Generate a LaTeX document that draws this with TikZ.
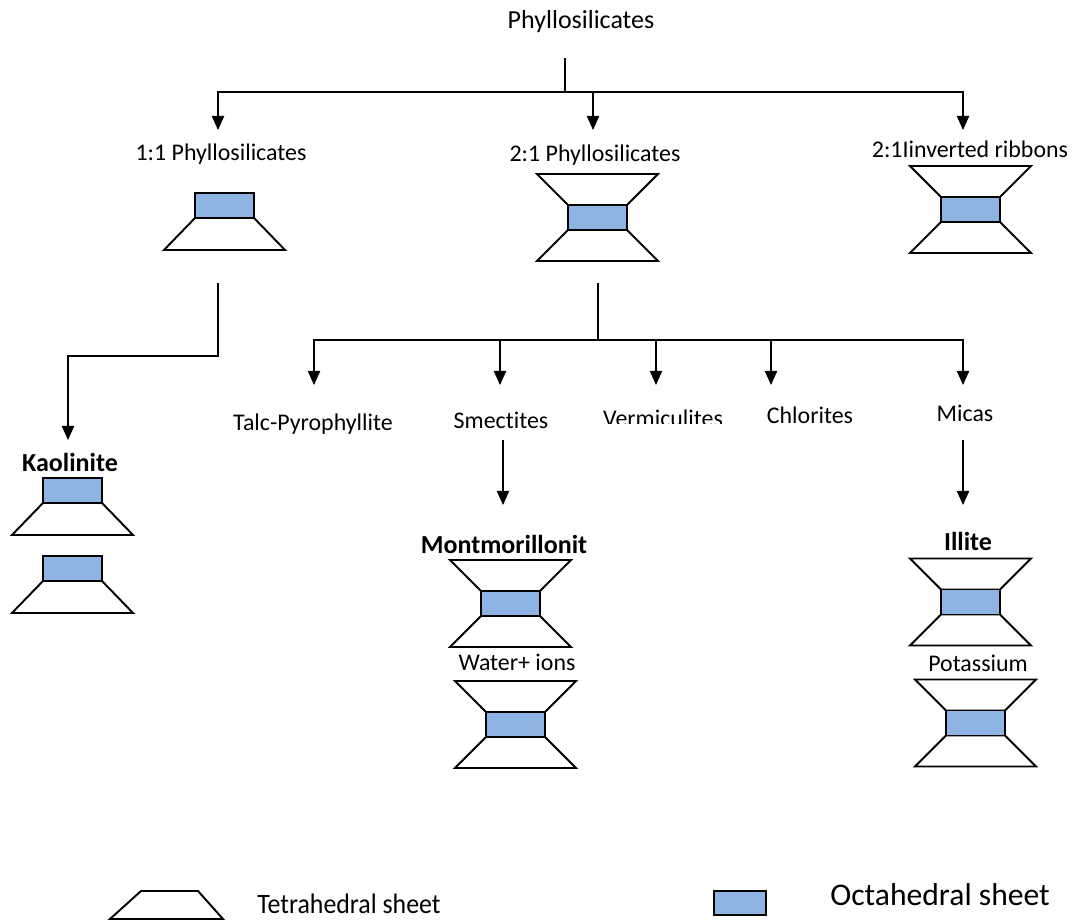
\documentclass[tikz,border=0pt]{standalone}
\usepackage{fontspec}
\setmainfont{Carlito}[Ligatures={TeX,NoCommon}]
\usepackage{xcolor}
\usepackage{tikz}
\usetikzlibrary{arrows.meta,positioning}
\definecolor{octblue}{RGB}{141,180,226}
\tikzset{
	>=latex,
	conn/.style = {
			draw       = black,
			line width = 0.7pt,
		},
	arr/.style = {
			conn,
			-{Triangle[length=8pt,width=7pt]},
		},
	lbl/.style = {
			font      = \fontsize{13.6}{16}\selectfont,
			inner sep = 0pt,
			anchor    = base,
		},
	toplbl/.style = {
			lbl,
			font = \fontsize{14.8}{17}\selectfont,
		},
	boldlbl/.style = {
			lbl,
			font = \fontsize{14.8}{17}\selectfont\bfseries,
		},
	tetra/.style = {
			draw       = black,
			fill       = white,
			line width = 1.1pt,
		},
	octa/.style = {
			draw       = black,
			fill       = octblue,
			line width = 1.1pt,
		},
	pics/tot/.style = {code={
				\draw[tetra] (-29.5,-12.5) -- (29.5,-12.5) -- (60.5,-43.5) -- (-60.5,-43.5) -- cycle;
				\draw[tetra] (-29.5,12.5) -- (29.5,12.5) -- (60.5,43.5) -- (-60.5,43.5) -- cycle;
				\draw[octa] (-29.5,-12.5) rectangle (29.5,12.5);
			}},
	pics/to/.style = {code={
				\draw[tetra] (-29.5,12.5) -- (29.5,12.5) -- (60.5,44.5) -- (-60.5,44.5) -- cycle;
				\draw[octa] (-29.5,-12.5) rectangle (29.5,12.5);
			}},
}

\begin{document}
\begin{tikzpicture}[x=0.02cm, y=-0.02cm]
	\useasboundingbox (0,0) rectangle (1075,922);

	% top level
	\node[toplbl] (phyl) at (581,29) {Phyllosilicates};
	\coordinate (stem) at (565,58);
	\coordinate (hub) at (565,92);
	\coordinate (a11) at (218,130);
	\coordinate (a21) at (593,130);
	\coordinate (arib) at (963,130);
	\draw[conn] (stem) -- (hub);
	\draw[arr] (hub) -| (a11);
	\draw[arr] (hub) -| (a21);
	\draw[arr] (hub) -| (arib);

	\node[lbl] (one) at (221,161) {1:1 Phyllosilicates};
	\node[lbl] (two) at (595,162) {2:1 Phyllosilicates};
	\node[lbl] (rib) at (970,158) {2:1Iinverted ribbons};
	\pic at (224.5,205.5) {to};
	\pic at (597.5,217.5) {tot};
	\pic at (970.5,209.5) {tot};

	% 1:1 branch
	\coordinate (k1) at (218,283);
	\coordinate (k2) at (68,356);
	\coordinate (k3) at (68,440);
	\draw[arr] (k1) |- (k2) -- (k3);
	\node[boldlbl] (kaol) at (70,471) {Kaolinite};
	\pic at (72.5,490.5) {to};
	\pic at (72.5,568.5) {to};

	% 2:1 branch
	\coordinate (t1) at (598,283);
	\coordinate (hub2) at (598,340);
	\draw[conn] (t1) -- (hub2);
	\foreach \name/\x in {talc/314, smec/500, verm/656, chlo/771, mica/963}{
			\coordinate (\name a) at (\x,385);
			\draw[arr] (hub2) -| (\name a);
		}
	\node[lbl] (talc) at (313,430) {Talc-Pyrophyllite};
	\node[lbl] (smec) at (501,428) {Smectites};
	\begin{scope}
		\clip (590,395) rectangle (740,423);
		\node[lbl] (verm) at (663,426) {Vermiculites};
	\end{scope}
	\node[lbl] (chlo) at (810,423) {Chlorites};
	\node[lbl] (mica) at (965,421) {Micas};

	\coordinate (s1) at (503,440);
	\coordinate (s2) at (503,505);
	\draw[arr] (s1) -- (s2);
	\coordinate (m1) at (963,440);
	\coordinate (m2) at (963,505);
	\draw[arr] (m1) -- (m2);

	\node[boldlbl] (mont) at (504,553) {Montmorillonit};
	\pic at (510.5,603.5) {tot};
	\node[lbl] (water) at (517,670) {Water+ ions};
	\pic at (515.5,724.5) {tot};

	\node[boldlbl] (illite) at (968,550) {Illite};
	\pic at (970.5,602) {tot};
	\node[lbl] (pot) at (978,671) {Potassium};
	\pic at (975.5,723) {tot};

	% legend
	\draw[tetra] (141,891) -- (198,891) -- (223,919) -- (110,919) -- cycle;
	\node[lbl, anchor=base west, font=\fontsize{16}{19}\selectfont, xscale=0.92] (tetlbl) at (257,913) {Tetrahedral sheet};
	\draw[octa] (714,891) rectangle (766,915);
	\node[lbl, anchor=base west, font=\fontsize{18}{21}\selectfont] (octlbl) at (830,905) {Octahedral sheet};
\end{tikzpicture}
\end{document}
